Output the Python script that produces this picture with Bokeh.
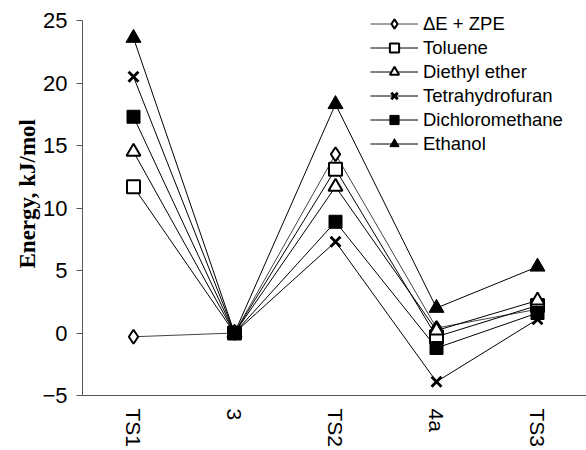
from bokeh.plotting import figure
from bokeh.models import Range1d, FixedTicker, Legend, LegendItem, Title
from bokeh.embed import file_html
from bokeh.resources import INLINE

categories = ["TS1", "3", "TS2", "4a", "TS3"]
de_zpe = [-0.3, 0.0, 14.3, 0.4, 1.9]
toluene = [11.7, 0.0, 13.1, -0.3, 2.2]
diethyl_ether = [14.5, 0.0, 11.7, 0.2, 2.6]
thf = [20.5, 0.0, 7.3, -3.9, 1.1]
dcm = [17.3, 0.0, 8.9, -1.2, 1.6]
ethanol = [23.6, 0.0, 18.3, 2.0, 5.3]
y_ticks = [-5, 0, 5, 10, 15, 20, 25]

series = [
    ("\u0394E + ZPE", de_zpe, "diamond", "white", 14, 2.0, "#444444"),
    ("Toluene", toluene, "square", "white", 13, 2.0, "black"),
    ("Diethyl ether", diethyl_ether, "triangle", "white", 14, 2.0, "black"),
    ("Tetrahydrofuran", thf, "x", "white", 14, 2.8, "black"),
    ("Dichloromethane", dcm, "square", "black", 13, 1.0, "black"),
    ("Ethanol", ethanol, "triangle", "black", 15, 1.0, "black"),
]

SERIF_BOLD = "Liberation Serif"
TEXT_FONT = "Liberation Sans"

p = figure(width=586, height=450, output_backend="svg", toolbar_location=None,
           x_range=Range1d(-0.505, 4.485), y_range=Range1d(-5, 25.96),
           min_border_left=82, min_border_top=8, min_border_right=0,
           min_border_bottom=55)
p.grid.visible = False
p.outline_line_color = None
p.background_fill_color = "white"

xs = list(range(len(categories)))
xax = p.xaxis[0]
yax = p.yaxis[0]
xax.ticker = FixedTicker(ticks=xs)
xax.major_label_overrides = {i: c for i, c in enumerate(categories)}
xax.major_label_orientation = "vertical"
xax.major_tick_out = 0
xax.major_tick_in = 0
xax.minor_tick_out = 0
xax.minor_tick_in = 0
xax.major_label_standoff = 13
xax.major_label_text_font = TEXT_FONT
xax.major_label_text_font_size = "21px"
xax.major_label_text_color = "black"
xax.axis_line_color = "#555555"

yax.ticker = FixedTicker(ticks=y_ticks)
yax.bounds = (-5, 25)
yax.major_tick_out = 6
yax.major_tick_in = 0
yax.minor_tick_out = 0
yax.minor_tick_in = 0
yax.major_label_standoff = 9
yax.major_label_text_font = TEXT_FONT
yax.major_label_text_font_size = "22px"
yax.major_label_text_color = "black"
yax.axis_line_color = "#555555"
yax.major_tick_line_color = "#555555"

ylab = Title(text="Energy, kJ/mol", align="left", offset=127,
             text_font=SERIF_BOLD, text_font_style="bold", text_font_size="23px",
             text_color="black", standoff=0)
p.add_layout(ylab, "left")

items = []
for name, vals, marker, fill, size, lw, lcolor in series:
    ln = p.line(xs, vals, line_color=lcolor, line_width=1)
    sc = p.scatter(xs, vals, marker=marker, size=size, fill_color=fill,
                   line_color="black", line_width=lw)
    items.append(LegendItem(label=name, renderers=[ln, sc]))

legend = Legend(items=items, location=(288, 240), border_line_color=None,
                background_fill_alpha=0, padding=0, margin=0, spacing=1,
                glyph_width=48, glyph_height=23, label_height=23,
                label_standoff=5, label_text_font=TEXT_FONT,
                label_text_font_size="18.5px", label_text_color="black")
p.add_layout(legend)

open("out.html", "w").write(file_html(p, INLINE))
